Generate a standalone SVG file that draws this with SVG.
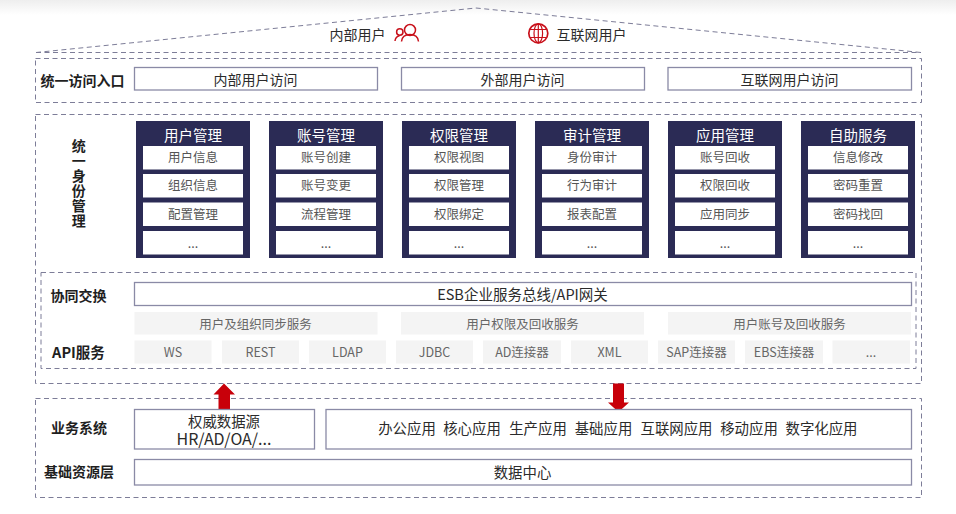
<svg xmlns="http://www.w3.org/2000/svg" width="956" height="514" viewBox="0 0 956 514">
<style>
text{font-family:"Noto Sans CJK SC","Noto Sans",sans-serif;text-anchor:middle;dominant-baseline:central;fill:#2b2b2b;font-size:14px}
.lbl{font-weight:700;fill:#1f1f1f}
.vert{writing-mode:vertical-rl;letter-spacing:1px}
.app{font-size:14.400px}
.dash{fill:none;stroke:#7d7d98;stroke-width:1;stroke-dasharray:5 3.5}
.box{fill:#fff;stroke:#8a8aa6;stroke-width:1.3}
.panel{fill:#2b2b55}
.item{fill:#fff}
.title{fill:#fff;font-size:14.500px}
.it{fill:#555;font-size:12.500px}
.grey{fill:#f4f4f4}
.gt{fill:#666;font-size:12.500px}
.red{fill:#c8000a}
.ico{fill:none;stroke:#c8101a;stroke-width:1.500}
</style>
<defs>
<linearGradient id="top" x1="0" y1="0" x2="0" y2="1"><stop offset="0" stop-color="#eeeeee"/><stop offset="1" stop-color="#ffffff"/></linearGradient>
<g id="pnl"><rect class="panel" x="0" y="0" width="114" height="137"/><rect class="item" x="7" y="25" width="100" height="23.500"/><rect class="item" x="7" y="53" width="100" height="23.500"/><rect class="item" x="7" y="81.500" width="100" height="23.500"/><rect class="item" x="7" y="110" width="100" height="23.500"/></g>
</defs>
<rect width="956" height="514" fill="#fff"/>
<rect width="956" height="15" fill="url(#top)"/>
<g id="frames">
<path class="dash" d="M36 52.500L476 8L921 52.500"/>
<path class="dash" d="M36 52.500H921"/>
<rect class="dash" x="35.500" y="58.500" width="886" height="44"/>
<rect class="dash" x="35.500" y="114.500" width="886" height="269"/>
<rect class="dash" x="41" y="272.500" width="875" height="96"/>
<rect class="dash" x="35.500" y="398.500" width="886" height="99"/>
</g>
<g id="users">
<text x="357.500" y="34">内部用户</text>
<g id="icon-internal" class="ico"><circle cx="410" cy="30" r="5.500"/><path d="M401.500 41.500C402 36.500 405.500 34.500 410 34.500C414.500 34.500 418 36.500 418.500 41.500"/><circle cx="399.800" cy="32" r="3.200"/><path d="M395 41C395.300 38.500 396.500 36.500 399.500 35.800"/></g>
<g id="icon-globe" class="ico"><circle cx="538.300" cy="33.300" r="9.500" stroke-width="1.700"/><ellipse cx="538.300" cy="33.300" rx="4.300" ry="9.500" stroke-width="1.200"/><path stroke-width="1.200" d="M538.300 24V43M530 29.500H546.500M530 37.500H546.500"/></g>
<text x="591.500" y="34">互联网用户</text>
</g>
<g id="entry">
<text class="lbl" x="82.500" y="79.500">统一访问入口</text>
<rect class="box" x="134.500" y="67.500" width="243" height="22.500"/><text x="255.500" y="78.500">内部用户访问</text>
<rect class="box" x="401.500" y="67.500" width="243" height="22.500"/><text x="522.500" y="78.500">外部用户访问</text>
<rect class="box" x="668" y="67.500" width="243.500" height="22.500"/><text x="789.500" y="78.500">互联网用户访问</text>
</g>
<g id="identity-label">
<text class="lbl vert" x="78.700" y="184">统一身份管理</text>
</g>
<g id="p1"><use href="#pnl" x="136" y="121"/><text class="title" x="193" y="134">用户管理</text><text class="it" x="193" y="156.500">用户信息</text><text class="it" x="193" y="184.500">组织信息</text><text class="it" x="193" y="213">配置管理</text><text class="it" x="193" y="242">...</text></g>
<g id="p2"><use href="#pnl" x="269" y="121"/><text class="title" x="326" y="134">账号管理</text><text class="it" x="326" y="156.500">账号创建</text><text class="it" x="326" y="184.500">账号变更</text><text class="it" x="326" y="213">流程管理</text><text class="it" x="326" y="242">...</text></g>
<g id="p3"><use href="#pnl" x="402" y="121"/><text class="title" x="459" y="134">权限管理</text><text class="it" x="459" y="156.500">权限视图</text><text class="it" x="459" y="184.500">权限管理</text><text class="it" x="459" y="213">权限绑定</text><text class="it" x="459" y="242">...</text></g>
<g id="p4"><use href="#pnl" x="535" y="121"/><text class="title" x="592" y="134">审计管理</text><text class="it" x="592" y="156.500">身份审计</text><text class="it" x="592" y="184.500">行为审计</text><text class="it" x="592" y="213">报表配置</text><text class="it" x="592" y="242">...</text></g>
<g id="p5"><use href="#pnl" x="668" y="121"/><text class="title" x="725" y="134">应用管理</text><text class="it" x="725" y="156.500">账号回收</text><text class="it" x="725" y="184.500">权限回收</text><text class="it" x="725" y="213">应用同步</text><text class="it" x="725" y="242">...</text></g>
<g id="p6"><use href="#pnl" x="801" y="121"/><text class="title" x="858" y="134">自助服务</text><text class="it" x="858" y="156.500">信息修改</text><text class="it" x="858" y="184.500">密码重置</text><text class="it" x="858" y="213">密码找回</text><text class="it" x="858" y="242">...</text></g>
<g id="exchange">
<text class="lbl" x="78.500" y="295">协同交换</text>
<rect class="box" x="134.500" y="282.500" width="777" height="23"/><text x="522.500" y="293" style="font-size:14.500px">ESB企业服务总线/API网关</text>
<rect class="grey" x="134.500" y="312" width="243" height="22.500"/><text class="gt" x="255.500" y="323.500">用户及组织同步服务</text>
<rect class="grey" x="401" y="312" width="243" height="22.500"/><text class="gt" x="522.500" y="323.500">用户权限及回收服务</text>
<rect class="grey" x="668" y="312" width="243" height="22.500"/><text class="gt" x="789.500" y="323.500">用户账号及回收服务</text>
</g>
<g id="api">
<text class="lbl" x="78.500" y="351.500" style="font-size:14.500px">API服务</text>
<rect class="grey" x="134.500" y="340.500" width="77" height="23"/><text class="gt" x="173" y="351.500">WS</text>
<rect class="grey" x="222" y="340.500" width="77" height="23"/><text class="gt" x="260.500" y="351.500">REST</text>
<rect class="grey" x="309" y="340.500" width="77" height="23"/><text class="gt" x="347.500" y="351.500">LDAP</text>
<rect class="grey" x="396" y="340.500" width="77" height="23"/><text class="gt" x="434.500" y="351.500">JDBC</text>
<rect class="grey" x="483" y="340.500" width="78" height="23"/><text class="gt" x="522" y="351.500">AD连接器</text>
<rect class="grey" x="571" y="340.500" width="77" height="23"/><text class="gt" x="609.500" y="351.500">XML</text>
<rect class="grey" x="658" y="340.500" width="77" height="23"/><text class="gt" x="696.500" y="351.500">SAP连接器</text>
<rect class="grey" x="745" y="340.500" width="78" height="23"/><text class="gt" x="784" y="351.500">EBS连接器</text>
<rect class="grey" x="832.500" y="340.500" width="77.500" height="23"/><text class="gt" x="871" y="351.500">...</text>
</g>
<g id="connectors">
<path class="red" d="M224 383.500L235 394.500H230V412H218.500V394.500H213.500Z"/>
<path class="red" d="M613 383.500H624V402.500H629L618.500 412L608 402.500H613Z"/>
</g>
<g id="business">
<text class="lbl" x="79" y="427">业务系统</text>
<rect class="box" x="134.500" y="409.500" width="180" height="39.500"/><text class="app" x="224" y="420">权威数据源</text><text x="224" y="437.500" style="font-size:16px">HR/AD/OA/...</text>
<rect class="box" x="326" y="409.500" width="585.500" height="39.500"/>
<text class="app" x="407" y="427.500">办公应用</text><text class="app" x="472" y="427.500">核心应用</text><text class="app" x="538" y="427.500">生产应用</text><text class="app" x="603.500" y="427.500">基础应用</text><text class="app" x="676.500" y="427.500">互联网应用</text><text class="app" x="749" y="427.500">移动应用</text><text class="app" x="821.500" y="427.500">数字化应用</text>
</g>
<g id="infra">
<text class="lbl" x="79" y="470.500">基础资源层</text>
<rect class="box" x="134.500" y="459.500" width="777" height="25.500"/><text class="app" x="522.500" y="471.500">数据中心</text>
</g>
</svg>
